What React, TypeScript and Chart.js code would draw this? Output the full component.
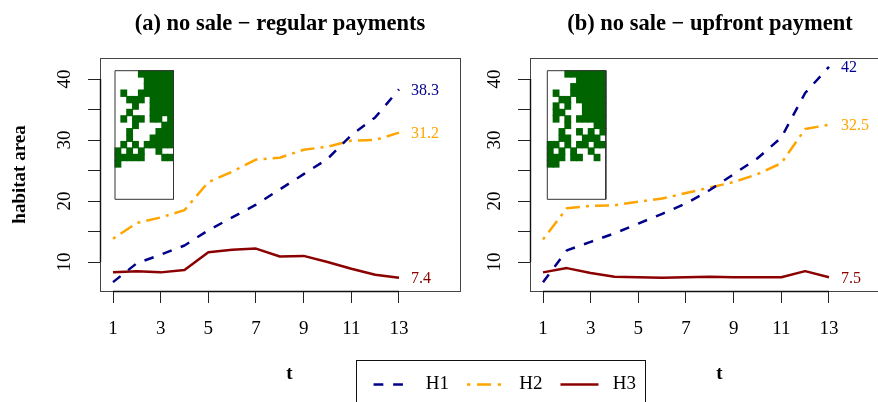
import React, { useEffect, useRef } from "react";
import { Chart, registerables } from "chart.js";

Chart.register(...registerables);

const T = [1, 2, 3, 4, 5, 6, 7, 8, 9, 10, 11, 12, 13];
const X_TICKS = [1, 3, 5, 7, 9, 11, 13];
const Y_TICKS = [10, 15, 20, 25, 30, 35, 40];
const Y_LABELLED = [10, 20, 30, 40];
const NAMES = ["H1", "H2", "H3"];
const COLORS = ["#00008B", "#FFA500", "#8B0000"];

const A_H1 = [6.7, 9.8, 11.2, 12.7, 15.2, 17.3, 19.4, 21.9, 24.4, 26.9, 30.8, 33.7, 38.3];
const A_H2 = [13.8, 16.4, 17.3, 18.5, 23.1, 24.8, 26.8, 27.1, 28.4, 28.9, 29.9, 30, 31.2];
const A_H3 = [8.3, 8.5, 8.3, 8.7, 11.6, 12, 12.2, 10.9, 11, 10, 8.9, 7.9, 7.4];
const A_ENDS = ["38.3", "31.2", "7.4"];

const B_H1 = [6.7, 11.9, 13.3, 14.7, 16.3, 17.9, 19.6, 21.8, 24.4, 27, 30.4, 37.7, 42];
const B_H2 = [13.7, 18.8, 19.2, 19.3, 19.9, 20.4, 21.3, 22.2, 23.1, 24.4, 26.2, 31.8, 32.5];
const B_H3 = [8.3, 9, 8.2, 7.6, 7.5, 7.4, 7.5, 7.6, 7.5, 7.5, 7.5, 8.5, 7.5];
const B_ENDS = ["42", "32.5", "7.5"];

const A_GRID = [
  "....######",
  ".....#####",
  ".....#####",
  ".#..######",
  "..###.####",
  "...#..####",
  "..#...####",
  ".#.##.##.#",
  "...#....##",
  "..#....###",
  "..#...####",
  ".#.#.#####",
  "#.#.#..#..",
  "#####...##",
  "#.........",
];

const B_GRID = [
  "...#######",
  ".....#####",
  "....######",
  ".#..######",
  "..##.#####",
  ".#.#..####",
  ".##...####",
  ".#.#.#####",
  "...#....##",
  "..#..#.#.#",
  "..##..###.",
  "##.#.##.##",
  "#.#.#..#..",
  "###.##..#.",
  "##........",
];

const SERIF = "'Liberation Serif'";
const DASHES = [[9.65, 9.65], [3, 6.1, 14, 6.1], []];
const LEGEND_DASHES = [[9.8, 9.8], [3.3, 6.7, 14, 6.7], []];
const LINE_W = 2.5;

const cellsOf = (grid: string[]) => {
  const cells: { x: number; y: number[] }[] = [];
  grid.forEach((row, r) =>
    row.split("").forEach((c, k) => {
      if (c === "#") cells.push({ x: k, y: [r, r + 1] });
    })
  );
  return cells;
};

const panelPlugin = (ends: string[]) => ({
  id: "panelFrame",
  afterDatasetsDraw(chart: any) {
    const { ctx, chartArea: a, scales } = chart;
    const x = scales.x;
    const y = scales.y;
    ctx.save();
    ctx.strokeStyle = "#444";
    ctx.lineWidth = 1;
    ctx.strokeRect(a.left + 0.5, a.top + 0.5, a.right - a.left, a.bottom - a.top);
    ctx.strokeStyle = "#111";
    ctx.lineWidth = 1.4;
    ctx.beginPath();
    ctx.moveTo(x.getPixelForValue(X_TICKS[0]), a.bottom + 0.5);
    ctx.lineTo(x.getPixelForValue(X_TICKS[X_TICKS.length - 1]), a.bottom + 0.5);
    ctx.moveTo(a.left + 0.5, y.getPixelForValue(Y_TICKS[0]));
    ctx.lineTo(a.left + 0.5, y.getPixelForValue(Y_TICKS[Y_TICKS.length - 1]));
    ctx.stroke();

    ctx.textBaseline = "middle";
    ctx.textAlign = "left";
    ctx.font = `16px ${SERIF}`;
    chart.data.datasets.slice(0, 3).forEach((d: any, i: number) => {
      const last = d.data[d.data.length - 1];
      ctx.fillStyle = COLORS[i];
      ctx.fillText(ends[i], x.getPixelForValue(last.x) + 12, y.getPixelForValue(last.y) + 1.2);
    });

    ctx.fillStyle = "#000";
    ctx.textAlign = "center";
    ctx.font = `bold 19px ${SERIF}`;
    ctx.fillText("t", (a.left + a.right) / 2 + 9.5, 374);
    ctx.restore();
  },
});

const makePanel = (
  canvas: HTMLCanvasElement,
  title: string,
  series: number[][],
  ends: string[],
  grid: string[],
  yTitle: string,
  insetLeft: number
) => {
  const cw = 5.85;
  const ch = 6.43;
  const lines = series.map((vals, i) => ({
    type: "line",
    label: NAMES[i],
    data: vals.map((v, k) => ({ x: T[k], y: v })),
    borderColor: COLORS[i],
    borderWidth: LINE_W,
    borderDash: DASHES[i],
    borderJoinStyle: "round",
    pointRadius: 0,
    tension: 0,
    xAxisID: "x",
    yAxisID: "y",
    order: 1,
  }));
  return new Chart(canvas, {
    type: "line",
    plugins: [panelPlugin(ends)],
    data: {
      datasets: [
        ...lines,
        {
          type: "bar",
          label: "map",
          data: cellsOf(grid),
          backgroundColor: "#006400",
          borderWidth: 0,
          barThickness: cw,
          inflateAmount: 0.5,
          xAxisID: "ix",
          yAxisID: "iy",
          order: 3,
        },
        {
          type: "line",
          label: "map frame",
          data: [
            { x: 0, y: 0 },
            { x: 10, y: 0 },
            { x: 10, y: 20 },
            { x: 0, y: 20 },
            { x: 0, y: 0 },
          ],
          borderColor: "#333",
          borderWidth: 1,
          pointRadius: 0,
          xAxisID: "ix",
          yAxisID: "iy",
          order: 2,
        },
      ] as any,
    },
    options: {
      animation: false,
      responsive: false,
      devicePixelRatio: 1,
      layout: { padding: { right: 30 } },
      plugins: {
        legend: { display: false },
        tooltip: { enabled: false },
        title: {
          display: true,
          fullSize: false,
          text: title,
          color: "#000",
          font: { family: SERIF, size: 22.5, weight: "bold" },
          padding: { top: 11, bottom: 20 },
        },
      },
      scales: {
        x: {
          type: "linear",
          min: 1 - 13 / 23.83,
          max: 13 + 61 / 23.83,
          afterBuildTicks: (s: any) => {
            s.ticks = X_TICKS.map((v) => ({ value: v }));
          },
          afterFit: (s: any) => {
            s.height = 111;
          },
          border: { display: false },
          grid: { drawOnChartArea: false, tickLength: 12, tickColor: "#222", tickWidth: 1 },
          ticks: {
            autoSkip: false,
            maxRotation: 0,
            padding: 15,
            color: "#000",
            font: { family: SERIF, size: 19 },
            callback: (v: any) => String(v),
          },
        },
        y: {
          type: "linear",
          min: 10 - 29 / 6.1,
          max: 40 + 21 / 6.1,
          afterBuildTicks: (s: any) => {
            s.ticks = Y_TICKS.map((v) => ({ value: v }));
          },
          afterFit: (s: any) => {
            s.width = 100;
          },
          border: { display: false },
          grid: { drawOnChartArea: false, tickLength: 12, tickColor: "#222", tickWidth: 1 },
          title: {
            display: yTitle !== "",
            text: yTitle,
            color: "#000",
            font: { family: SERIF, size: 19, weight: "bold" },
            padding: { top: 9, bottom: 0 },
          },
          ticks: {
            autoSkip: false,
            minRotation: 90,
            maxRotation: 90,
            crossAlign: "center",
            padding: 13.5,
            color: "#000",
            font: { family: SERIF, size: 19 },
            callback: (v: any) => (Y_LABELLED.includes(v) ? String(v) : ""),
          },
        },
        ix: {
          type: "linear",
          display: false,
          offset: false,
          min: -insetLeft / cw,
          max: (360 - insetLeft) / cw,
        },
        iy: {
          type: "linear",
          display: false,
          reverse: true,
          min: -12.7 / ch,
          max: 220.3 / ch,
        },
      },
    } as any,
  });
};

const makeLegend = (canvas: HTMLCanvasElement) =>
  new Chart(canvas, {
    type: "line",
    plugins: [
      {
        id: "legendFrame",
        afterDraw(chart: any) {
          const { ctx } = chart;
          ctx.save();
          ctx.strokeStyle = "#111";
          ctx.lineWidth = 1;
          ctx.strokeRect(356.5, 360.5, 289, 80);
          ctx.restore();
        },
      },
    ],
    data: {
      datasets: NAMES.map((n, i) => ({
        label: n,
        data: [],
        borderColor: COLORS[i],
        borderWidth: LINE_W,
        borderDash: LEGEND_DASHES[i],
      })),
    },
    options: {
      animation: false,
      responsive: false,
      devicePixelRatio: 1,
      layout: { padding: { top: 357, left: 131.5 } },
      scales: { x: { display: false }, y: { display: false } },
      plugins: {
        tooltip: { enabled: false },
        legend: {
          display: true,
          position: "top",
          labels: {
            usePointStyle: true,
            pointStyleWidth: 38,
            padding: 18,
            color: "#000",
            font: { family: SERIF, size: 19 },
            generateLabels: (chart: any) =>
              chart.data.datasets.map((d: any, i: number) => ({
                text: "\u00a0" + d.label,
                fillStyle: d.borderColor,
                strokeStyle: d.borderColor,
                lineWidth: d.borderWidth,
                lineDash: d.borderDash,
                lineCap: "butt",
                pointStyle: "line",
                rotation: 0,
                hidden: false,
                datasetIndex: i,
                fontColor: "#000",
              })),
          },
        },
      },
    } as any,
  });

export default function App() {
  const aRef = useRef<HTMLCanvasElement>(null);
  const bRef = useRef<HTMLCanvasElement>(null);
  const lRef = useRef<HTMLCanvasElement>(null);

  useEffect(() => {
    const charts = [
      makePanel(aRef.current!, "(a) no sale \u2212 regular payments", [A_H1, A_H2, A_H3], A_ENDS, A_GRID, "habitat area", 15),
      makePanel(bRef.current!, "(b) no sale \u2212 upfront payment", [B_H1, B_H2, B_H3], B_ENDS, B_GRID, "", 17.3),
      makeLegend(lRef.current!),
    ];
    return () => charts.forEach((c) => c.destroy());
  }, []);

  const abs = (left: number): React.CSSProperties => ({ position: "absolute", left, top: 0, display: "block" });

  return (
    <div style={{ position: "fixed", left: 0, top: 0, width: 878, height: 402, overflow: "hidden", background: "#fff" }}>
      <canvas ref={aRef} width={490} height={402} style={abs(0)} />
      <canvas ref={bRef} width={490} height={402} style={abs(430)} />
      <canvas ref={lRef} width={878} height={520} style={{ ...abs(0), pointerEvents: "none" }} />
    </div>
  );
}
